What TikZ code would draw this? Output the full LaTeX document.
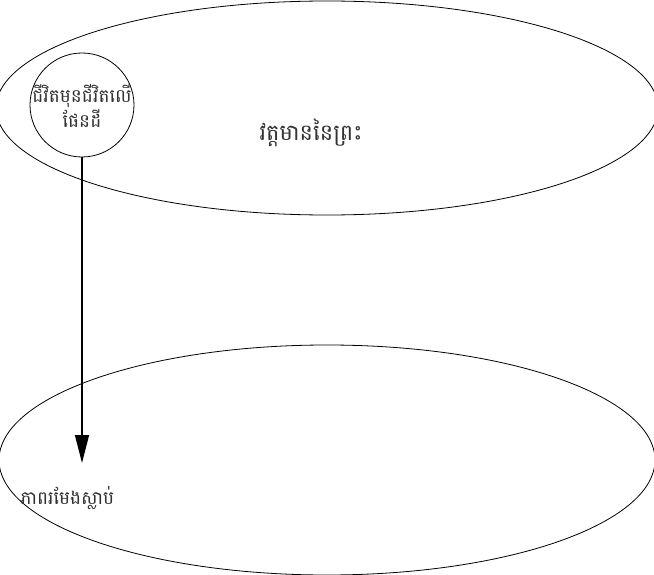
\documentclass[tikz,border=0pt]{standalone}
\usepackage{fontspec}
\newfontfamily\khmerfont[Script=Khmer]{Battambang}
\usetikzlibrary{arrows.meta}
\begin{document}
\begin{tikzpicture}[x=1pt,y=-1pt,
  lbl/.style={font=\khmerfont,text=black!80},
  conn/.style={draw=black,line width=1.4pt,-{Triangle[length=28pt,width=14pt]}}]
\useasboundingbox (0,0) rectangle (654,575);
\begin{scope}
\clip (0,0) rectangle (654,575);
\draw[line width=0.8pt] (327,108) ellipse [x radius=331,y radius=107];
\draw[line width=0.8pt] (327,460) ellipse [x radius=328,y radius=115];
\end{scope}
\node[draw=black,line width=0.8pt,circle,minimum size=104pt,inner sep=0pt] (life) at (82,105) {};
\node[lbl,font=\khmerfont\fontsize{18.5}{12}\selectfont,align=center] (lifet) at (82,106) {ជីវិតមុនជីវិតលើ\\ផែនដី};
\node[lbl,font=\khmerfont\fontsize{22.5}{22}\selectfont] (presence) at (311,133) {វត្តមាននៃព្រះ};
\node[lbl,font=\khmerfont\fontsize{18.5}{19}\selectfont,anchor=west] (mortal) at (17,498) {ភាពរមែងស្លាប់};
\coordinate (tip) at (82,463);
\draw[conn] (life.south) -- (tip);
\end{tikzpicture}
\end{document}
